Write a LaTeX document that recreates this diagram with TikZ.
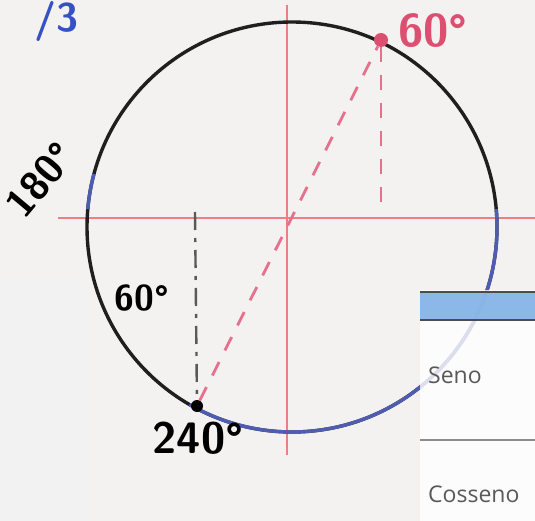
\documentclass[tikz,border=0pt]{standalone}
\usepackage{fontspec}
\newfontfamily\panelfont{Open Sans}
\usetikzlibrary{positioning}

\definecolor{paper}{RGB}{244,241,241}
\definecolor{sidegray}{RGB}{242,242,242}
\definecolor{axisred}{RGB}{236,128,128}
\definecolor{pinkmark}{RGB}{222,78,112}
\definecolor{ringblue}{RGB}{78,92,178}
\definecolor{headblue}{RGB}{128,176,232}
\definecolor{penblue}{RGB}{52,82,196}

\begin{document}
\begin{tikzpicture}[x=1pt, y=-1pt,
    axis/.style={draw=axisred, line width=2.6pt},
    ring/.style={draw=black!88, line width=3.4pt},
    ringpart/.style={draw=ringblue, line width=3.4pt},
    dashpink/.style={draw=pinkmark!80, line width=2.8pt, dash pattern=on 15pt off 13pt},
    dashdark/.style={draw=black!65, line width=2.4pt, dash pattern=on 18pt off 8pt on 4pt off 8pt},
    dot/.style={circle, fill=#1, inner sep=0pt, minimum size=14pt},
    hand/.style={font=\sffamily\bfseries\fontsize{40}{40}\selectfont, inner sep=0pt},
    panel/.style={font=\panelfont\fontsize{23}{23}\selectfont, text=black!65, inner sep=0pt}
]

% Paper
\fill[paper] (0,0) rectangle (535,521);
\useasboundingbox (0,0) rectangle (535,521);

% Axes
\coordinate (xl) at (58,218);
\coordinate (xr) at (535,218);
\coordinate (yt) at (287,5);
\coordinate (yb) at (287,455);
\draw[axis] (xl) -- (xr);
\draw[axis] (yt) -- (yb);

% Circle
\coordinate (c) at (292,227);
\draw[ring] (c) circle[radius=205];
\draw[ringpart] ([shift={(-5:205)}]c) arc[start angle=-5, end angle=120, radius=205];
\draw[ringpart] ([shift={(185:205)}]c) arc[start angle=185, end angle=195, radius=205];

% Points on the circle
\node[dot=pinkmark] (p60) at (381,40) {};
\node[dot=black, minimum size=12pt] (p240) at (197,406) {};

% Projections
\coordinate (f60) at (381,212);
\coordinate (f240) at (195,212);
\draw[dashpink] (p240) -- (p60);
\draw[dashpink] (p60) -- (f60);
\draw[dashdark] (f240) -- (p240);

% Handwritten labels
\node[hand, text=pinkmark, anchor=south west, font=\sffamily\bfseries\fontsize{46}{46}\selectfont] (l60) at (398,48) {60°};
\node[hand, rotate=50] (l180) at (40,180) {180°};
\node[hand, font=\sffamily\bfseries\fontsize{36}{36}\selectfont] (l60b) at (142,298) {60°};
\node[hand, font=\sffamily\bfseries\fontsize{44}{44}\selectfont] (l240) at (198,438) {240°};
\node[hand, text=penblue] (lpi) at (56,22) {/3};

% Side cover
\fill[sidegray] (0,276) rectangle (86,521);

% Table panel
\fill[white, fill opacity=0.8] (420,290) rectangle (535,521);
\fill[headblue, fill opacity=0.9] (420,292) rectangle (535,320);
\draw[black!70, line width=1.8pt] (420,292) -- (535,292);
\draw[black!70, line width=1.8pt] (420,320) -- (535,320);
\draw[black!45, line width=1.5pt] (420,440) -- (535,440);
\node[panel, anchor=base west] (seno) at (428,383) {Seno};
\node[panel, anchor=base west] (cosseno) at (428,502) {Cosseno};

\end{tikzpicture}
\end{document}
